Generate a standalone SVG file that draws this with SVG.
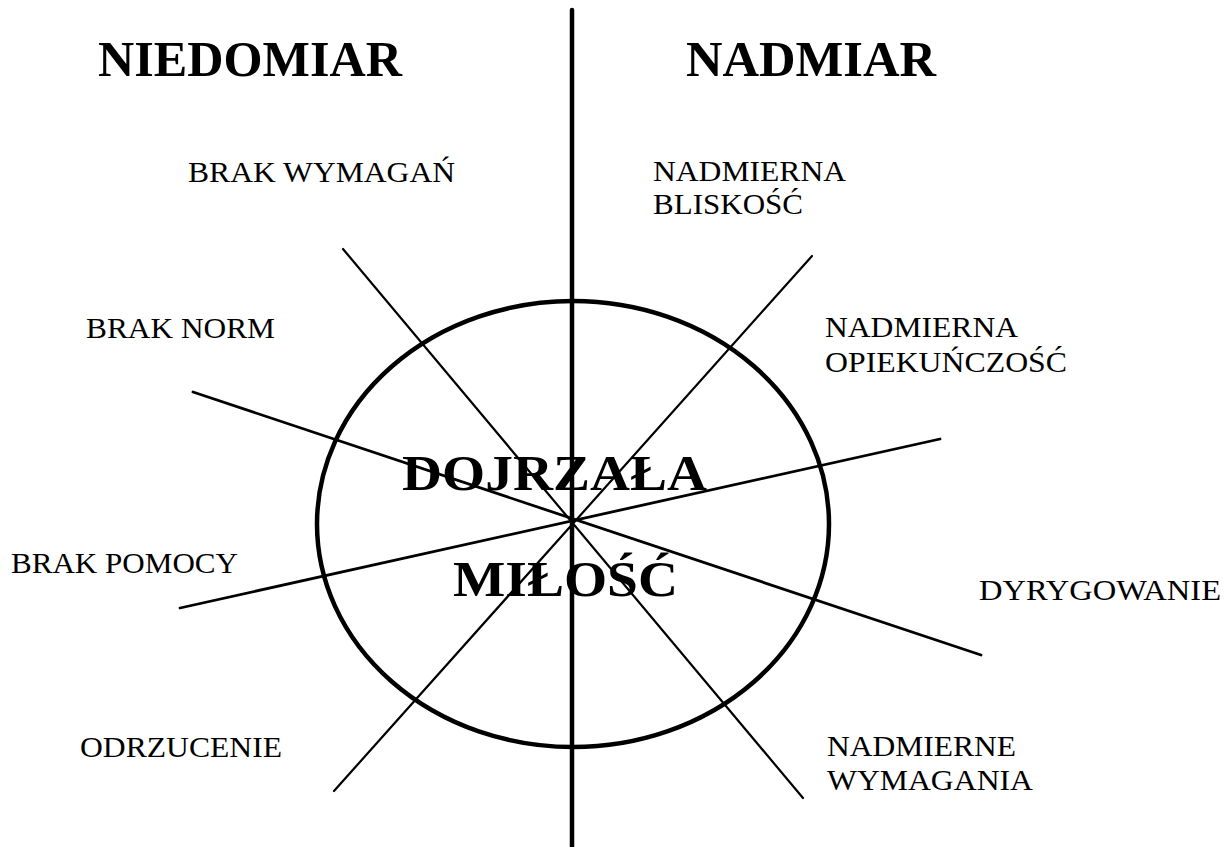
<svg xmlns="http://www.w3.org/2000/svg" width="1224" height="847" viewBox="0 0 1224 847">
<style>
.h{font-family:"Liberation Serif","Times New Roman",serif;font-weight:bold;font-size:50px;fill:#000}
.c{font-family:"Liberation Serif","Times New Roman",serif;font-weight:bold;font-size:51px;fill:#000}
.t{font-family:"Liberation Serif","Times New Roman",serif;font-size:30px;fill:#000}
.ln{stroke:#000;fill:none;stroke-linecap:round}
</style>
<rect width="1224" height="847" fill="#fff"/>
<g id="connectors">
<line class="ln" x1="572" y1="10" x2="572" y2="847" stroke-width="4.5"/>
<ellipse id="circle" class="ln" cx="573" cy="524" rx="256" ry="223" stroke-width="4.5"/>
<line class="ln" x1="343" y1="249" x2="803" y2="798" stroke-width="2.2"/>
<line class="ln" x1="812" y1="256" x2="334" y2="791" stroke-width="2.2"/>
<line class="ln" x1="193" y1="392" x2="981" y2="655" stroke-width="2.8"/>
<line class="ln" x1="180" y1="608" x2="940" y2="439" stroke-width="2.8"/>
</g>
<g id="niedomiar"><text class="h" x="98" y="76" textLength="304" lengthAdjust="spacingAndGlyphs">NIEDOMIAR</text></g>
<g id="nadmiar"><text class="h" x="686" y="76" textLength="250" lengthAdjust="spacingAndGlyphs">NADMIAR</text></g>
<g id="brak-wymagan"><text class="t" x="188" y="182" textLength="267" lengthAdjust="spacingAndGlyphs">BRAK WYMAGAŃ</text></g>
<g id="nadmierna-bliskosc"><text class="t" x="653" y="181" textLength="193" lengthAdjust="spacingAndGlyphs">NADMIERNA</text><text class="t" x="653" y="214" textLength="150" lengthAdjust="spacingAndGlyphs">BLISKOŚĆ</text></g>
<g id="brak-norm"><text class="t" x="86" y="338" textLength="189" lengthAdjust="spacingAndGlyphs">BRAK NORM</text></g>
<g id="nadmierna-opiekunczosc"><text class="t" x="825" y="337" textLength="193" lengthAdjust="spacingAndGlyphs">NADMIERNA</text><text class="t" x="825" y="372" textLength="242" lengthAdjust="spacingAndGlyphs">OPIEKUŃCZOŚĆ</text></g>
<g id="dojrzala-milosc"><text class="c" x="402" y="490" textLength="305" lengthAdjust="spacingAndGlyphs">DOJRZAŁA</text><text class="c" x="453" y="596" textLength="225" lengthAdjust="spacingAndGlyphs">MIŁOŚĆ</text></g>
<g id="brak-pomocy"><text class="t" x="11" y="573" textLength="227" lengthAdjust="spacingAndGlyphs">BRAK POMOCY</text></g>
<g id="dyrygowanie"><text class="t" x="979" y="600" textLength="242" lengthAdjust="spacingAndGlyphs">DYRYGOWANIE</text></g>
<g id="odrzucenie"><text class="t" x="80" y="757" textLength="202" lengthAdjust="spacingAndGlyphs">ODRZUCENIE</text></g>
<g id="nadmierne-wymagania"><text class="t" x="827" y="756" textLength="189" lengthAdjust="spacingAndGlyphs">NADMIERNE</text><text class="t" x="827" y="790" textLength="206" lengthAdjust="spacingAndGlyphs">WYMAGANIA</text></g>
</svg>
